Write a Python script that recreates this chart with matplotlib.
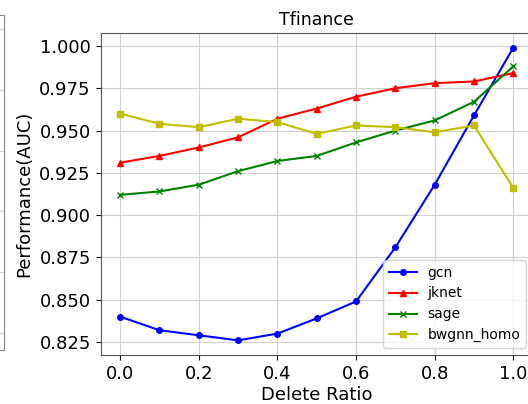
import numpy as np
import matplotlib
matplotlib.use("Agg")
import matplotlib.pyplot as plt

# delete ratios on the x axis
ratios = [0.0, 0.1, 0.2, 0.3, 0.4, 0.5, 0.6, 0.7, 0.8, 0.9, 1.0]

# AUC per model
gcn = [0.840, 0.832, 0.829, 0.826, 0.830, 0.839, 0.849, 0.881, 0.918, 0.959, 0.999]
jknet = [0.931, 0.935, 0.940, 0.946, 0.957, 0.963, 0.970, 0.975, 0.978, 0.979, 0.984]
sage = [0.912, 0.914, 0.918, 0.926, 0.932, 0.935, 0.943, 0.950, 0.956, 0.967, 0.988]
bwgnn_homo = [0.960, 0.954, 0.952, 0.957, 0.955, 0.948, 0.953, 0.952, 0.949, 0.953, 0.916]

W, H = 528, 404
fig = plt.figure(figsize=(W / 100, H / 100), dpi=100)

# sliver of the neighbouring subplot on the far left
ax0 = fig.add_axes([-0.3, (H - 350) / H, 0.3 + 3.5 / W, 335 / H])
ax0.set_ylim(-0.28, 5.23)
ax0.set_yticks(range(6))
ax0.set_xticks([])
ax0.tick_params(left=False, labelleft=False)
ax0.grid(True, axis="y", color="#d8d8d8", lw=0.8)
for s in ax0.spines.values():
    s.set_color("#888888")

# main panel, right side runs off the figure like in the crop
ax = fig.add_axes([100.5 / W, (H - 355) / H, 432.5 / W, 322 / H])
ax.plot(ratios, gcn, color="b", marker="o", ms=4, lw=1.5, label="gcn")
ax.plot(ratios, jknet, color="r", marker="^", ms=4, lw=1.5, label="jknet")
ax.plot(ratios, sage, color="g", marker="x", ms=4, lw=1.5, label="sage")
ax.plot(ratios, bwgnn_homo, color="y", marker="s", ms=4, lw=1.5, label="bwgnn_homo")

ax.set_title("Tfinance", fontsize=12.5)
ax.set_xlabel("Delete Ratio", fontsize=13, labelpad=2)
ax.set_ylabel("Performance(AUC)", fontsize=13)
ax.tick_params(labelsize=13)
ax.grid(True, color="#d0d0d0", lw=0.8)
for s in ax.spines.values():
    s.set_color("#555555")
ax.legend(loc="lower right", fontsize=10)

fig.savefig("out.png", dpi=100)
